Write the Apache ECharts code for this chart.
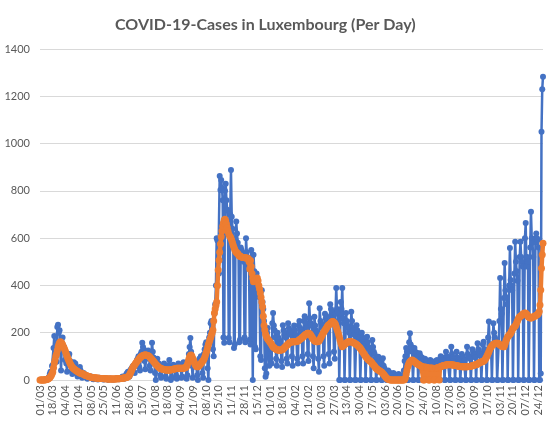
<!DOCTYPE html>
<html>
<head>
<meta charset="utf-8">
<script src="https://cdn.jsdelivr.net/npm/echarts@6/dist/echarts.min.js"></script>
<style>
  html, body { margin: 0; padding: 0; background: #fff; }
  #main { width: 556px; height: 426px; }
</style>
</head>
<body>
<div id="main"></div>
<script>
// daily values, one row per week (Sun..Sat), first day 01/03/2020
var startDate = [2020, 2, 1];

var dailyCases = [
  0, 0, 1, 0, 0, 1, 1,
  2, 0, 3, 2, 8, 12, 25,
  35, 22, 59, 63, 135, 186, 114,
  128, 77, 224, 234, 200, 210, 125,
  40, 160, 180, 130, 140, 85, 110,
  70, 35, 95, 100, 110, 80, 70,
  40, 25, 60, 75, 55, 70, 45,
  30, 15, 40, 50, 55, 40, 25,
  10, 20, 30, 25, 15, 20, 10,
  5, 10, 15, 12, 10, 15, 8,
  5, 3, 10, 8, 6, 7, 4,
  2, 6, 10, 5, 8, 4, 3,
  3, 2, 5, 8, 6, 4, 2,
  1, 4, 6, 5, 3, 2, 3,
  2, 3, 5, 4, 6, 8, 5,
  3, 6, 8, 10, 12, 15, 9,
  5, 12, 18, 25, 30, 35, 20,
  15, 40, 45, 50, 55, 60, 35,
  30, 60, 70, 85, 90, 100, 55,
  40, 110, 120, 158, 140, 130, 80,
  45, 90, 120, 110, 125, 100, 60,
  40, 100, 158, 120, 95, 80, 30,
  0, 75, 90, 60, 70, 55, 20,
  10, 60, 55, 45, 70, 40, 15,
  5, 40, 60, 55, 85, 45, 0,
  10, 50, 65, 45, 60, 40, 20,
  5, 60, 70, 55, 50, 65, 10,
  15, 55, 75, 60, 70, 50, 5,
  20, 80, 110, 140, 178, 120, 60,
  10, 70, 80, 60, 75, 55, 20,
  0, 70, 90, 80, 100, 85, 30,
  10, 110, 130, 150, 160, 140, 50,
  0, 180, 200, 240, 250, 220, 130,
  100, 280, 320, 400, 600, 590, 450,
  450, 863, 804, 846, 812, 760, 180,
  158, 800, 830, 760, 720, 650, 178,
  160, 700, 888, 690, 640, 600, 135,
  150, 592, 670, 620, 580, 560, 160,
  170, 560, 550, 540, 530, 500, 180,
  160, 600, 540, 520, 510, 490, 170,
  150, 550, 480, 0, 530, 460, 140,
  130, 450, 420, 400, 380, 350, 100,
  85, 380, 330, 300, 250, 50, 14,
  28, 200, 220, 150, 60, 90, 130,
  70, 240, 283, 230, 210, 180, 90,
  60, 200, 180, 170, 160, 150, 80,
  55, 232, 210, 190, 200, 180, 90,
  70, 240, 220, 200, 210, 190, 100,
  60, 200, 230, 210, 190, 180, 90,
  70, 230, 250, 220, 210, 200, 100,
  70, 250, 270, 260, 240, 220, 110,
  80, 325, 260, 240, 230, 200, 100,
  50, 268, 230, 210, 200, 180, 90,
  35, 304, 250, 240, 230, 220, 100,
  60, 280, 260, 270, 250, 230, 110,
  70, 320, 300, 280, 290, 260, 120,
  90, 280, 389, 300, 290, 250, 0,
  0, 330, 300, 389, 260, 240, 0,
  0, 283, 250, 230, 220, 200, 0,
  0, 289, 250, 220, 210, 190, 0,
  0, 232, 210, 190, 180, 160, 0,
  0, 200, 180, 170, 160, 150, 0,
  0, 183, 160, 140, 130, 110, 0,
  0, 169, 140, 120, 110, 90, 0,
  0, 60, 98, 80, 70, 60, 0,
  0, 92, 60, 50, 40, 30, 0,
  0, 40, 35, 30, 25, 20, 0,
  0, 30, 25, 20, 18, 15, 0,
  0, 25, 20, 18, 20, 15, 0,
  0, 40, 80, 100, 135, 120, 0,
  0, 160, 198, 150, 140, 120, 0,
  0, 135, 120, 110, 115, 100, 0,
  0, 113, 100, 90, 95, 80, 0,
  0, 90, 85, 80, 75, 70, 0,
  0, 85, 80, 75, 70, 65, 0,
  0, 80, 75, 85, 70, 60, 0,
  0, 100, 90, 95, 85, 80, 0,
  0, 120, 100, 90, 95, 85, 0,
  0, 141, 110, 95, 90, 80, 0,
  0, 120, 95, 90, 85, 75, 0,
  0, 110, 100, 90, 80, 85, 0,
  0, 141, 110, 100, 95, 90, 0,
  0, 130, 120, 110, 105, 95, 0,
  0, 155, 130, 120, 110, 100, 0,
  0, 150, 162, 130, 125, 110, 0,
  0, 180, 247, 150, 140, 130, 0,
  0, 240, 200, 180, 170, 160, 0,
  0, 150, 250, 431, 300, 280, 0,
  0, 347, 495, 380, 350, 320, 0,
  0, 400, 558, 423, 400, 380, 0,
  0, 450, 585, 500, 460, 420, 0,
  0, 520, 585, 520, 500, 480, 0,
  0, 600, 664, 480, 520, 500, 0,
  0, 560, 712, 600, 580, 520, 0,
  0, 599, 620, 600, 592, 560, 0,
  0, 28, 1050, 1230, 1283
];

var averageCases = [
  0, 0, 0, 0, 0, 0, 0,
  1, 1, 2, 3, 5, 7, 10,
  15, 19, 26, 34, 52, 72, 85,
  100, 110, 125, 140, 150, 158, 162,
  160, 155, 150, 142, 135, 128, 120,
  110, 100, 92, 85, 78, 70, 64,
  58, 54, 50, 48, 45, 42, 40,
  38, 36, 34, 32, 30, 29, 28,
  27, 25, 24, 22, 20, 19, 18,
  17, 16, 15, 14, 13, 12, 11,
  10, 10, 9, 9, 8, 8, 8,
  7, 7, 7, 6, 6, 6, 6,
  6, 5, 5, 5, 5, 5, 4,
  4, 4, 4, 4, 4, 4, 4,
  4, 4, 4, 4, 5, 5, 5,
  5, 5, 6, 6, 7, 7, 8,
  8, 9, 10, 11, 13, 14, 17,
  22, 28, 35, 42, 50, 56, 60,
  65, 70, 74, 78, 82, 86, 90,
  94, 97, 100, 102, 104, 105, 106,
  106, 106, 105, 104, 103, 100, 97,
  93, 90, 87, 83, 79, 75, 71,
  67, 63, 60, 57, 54, 52, 50,
  48, 47, 46, 45, 44, 43, 42,
  42, 42, 42, 42, 42, 42, 42,
  43, 44, 45, 46, 47, 48, 49,
  50, 50, 50, 50, 50, 50, 50,
  50, 50, 50, 51, 52, 54, 58,
  65, 75, 88, 98, 104, 106, 100,
  92, 85, 76, 68, 62, 58, 56,
  56, 58, 62, 66, 70, 74, 78,
  82, 88, 95, 105, 115, 125, 138,
  150, 160, 170, 180, 190, 200, 211,
  250, 283, 300, 315, 330, 400, 465,
  507, 540, 575, 606, 630, 650, 665,
  677, 680, 672, 660, 645, 630, 618,
  610, 606, 600, 590, 580, 570, 560,
  552, 545, 540, 537, 535, 530, 525,
  525, 522, 520, 519, 518, 518, 517,
  517, 516, 516, 515, 514, 500, 470,
  505, 480, 450, 430, 416, 418, 422,
  426, 429, 431, 420, 400, 385, 368,
  350, 330, 310, 270, 230, 211, 195,
  185, 178, 172, 169, 165, 160, 155,
  150, 145, 140, 137, 135, 132, 130,
  128, 127, 127, 126, 126, 127, 127,
  128, 130, 133, 136, 140, 143, 146,
  149, 152, 155, 158, 160, 161, 162,
  162, 162, 162, 162, 162, 163, 164,
  165, 167, 170, 172, 175, 178, 180,
  183, 186, 189, 192, 194, 196, 198,
  198, 197, 195, 190, 185, 180, 175,
  170, 166, 164, 163, 162, 162, 163,
  165, 170, 176, 182, 188, 195, 200,
  205, 210, 215, 220, 225, 230, 234,
  235, 238, 242, 245, 247, 246, 244,
  240, 235, 225, 215, 205, 195, 183,
  170, 158, 150, 141, 145, 148, 150,
  152, 155, 158, 160, 162, 162, 162,
  162, 162, 161, 160, 158, 156, 154,
  152, 150, 148, 145, 141, 138, 134,
  130, 125, 120, 115, 110, 105, 100,
  96, 92, 88, 85, 82, 80, 78,
  74, 70, 66, 62, 58, 54, 50,
  47, 44, 42, 40, 38, 36, 34,
  32, 28, 24, 20, 16, 12, 8,
  5, 3, 2, 1, 0, 0, 0,
  0, 0, 0, 0, 0, 0, 0,
  0, 0, 0, 0, 0, 0, 0,
  0, 0, 2, 10, 25, 40, 55,
  65, 72, 77, 80, 84, 85, 82,
  80, 78, 75, 72, 70, 68, 66,
  64, 62, 60, 58, 57, 56, 0,
  0, 55, 54, 53, 52, 52, 0,
  0, 51, 51, 50, 50, 50, 0,
  0, 50, 50, 51, 52, 53, 0,
  55, 57, 58, 59, 60, 61, 62,
  62, 63, 64, 64, 64, 64, 64,
  64, 64, 64, 63, 63, 62, 62,
  61, 60, 60, 59, 58, 58, 57,
  57, 56, 56, 56, 56, 56, 56,
  56, 56, 56, 57, 57, 57, 58,
  59, 60, 61, 62, 63, 64, 65,
  66, 68, 70, 72, 74, 75, 76,
  77, 78, 80, 83, 87, 92, 98,
  105, 112, 120, 128, 135, 140, 145,
  148, 150, 152, 154, 155, 155, 155,
  155, 153, 150, 148, 146, 144, 142,
  141, 141, 148, 158, 168, 176, 183,
  187, 190, 194, 198, 205, 212, 219,
  222, 225, 228, 234, 242, 250, 258,
  264, 268, 270, 272, 275, 278, 280,
  282, 283, 282, 280, 275, 270, 266,
  264, 262, 262, 263, 265, 267, 269,
  270, 272, 274, 276, 278, 282, 290,
  317, 381, 473, 530, 578
];

var yTicks = [0, 200, 400, 600, 800, 1000, 1200, 1400];

// dd/mm labels, one per day
var days = [];
var d = new Date(startDate[0], startDate[1], startDate[2]);
for (var i = 0; i < dailyCases.length; i++) {
  var dd = ('0' + d.getDate()).slice(-2);
  var mm = ('0' + (d.getMonth() + 1)).slice(-2);
  days.push(dd + '/' + mm);
  d.setDate(d.getDate() + 1);
}

var chart = echarts.init(document.getElementById('main'));

var option = {
  animation: false,
  backgroundColor: '#ffffff',
  title: {
    text: 'COVID-19-Cases in Luxembourg (Per Day)',
    left: 110,
    top: 12,
    textStyle: {
      fontFamily: 'Lato',
      fontWeight: 'bold',
      fontSize: 16,
      color: '#595959'
    }
  },
  grid: { left: 40, right: 13, top: 49, bottom: 46 },
  xAxis: {
    type: 'category',
    data: days,
    boundaryGap: false,
    axisLine: { lineStyle: { color: '#d9d9d9' } },
    axisTick: { show: false },
    axisLabel: {
      interval: 16,
      rotate: 90,
      fontFamily: 'Lato',
      fontSize: 11,
      color: '#595959',
      margin: 5
    }
  },
  yAxis: {
    type: 'value',
    min: yTicks[0],
    max: yTicks[yTicks.length - 1],
    interval: 200,
    axisLine: { show: false },
    axisTick: { show: false },
    splitLine: { lineStyle: { color: '#d9d9d9' } },
    axisLabel: {
      fontFamily: 'Lato',
      fontSize: 11,
      color: '#595959',
      margin: 10,
      formatter: function (v) { return String(v); }
    }
  },
  series: [
    {
      name: 'Cases',
      type: 'line',
      data: dailyCases,
      showAllSymbol: true,
      symbol: 'circle',
      symbolSize: 6,
      itemStyle: { color: '#4472c4' },
      lineStyle: { color: '#4472c4', width: 2.5 },
      z: 2
    },
    {
      name: 'Average',
      type: 'line',
      data: averageCases,
      showAllSymbol: true,
      symbol: 'circle',
      symbolSize: 7,
      itemStyle: { color: '#ed7d31' },
      lineStyle: { color: '#ed7d31', width: 4.5 },
      z: 3
    }
  ]
};

chart.setOption(option);
</script>
</body>
</html>
